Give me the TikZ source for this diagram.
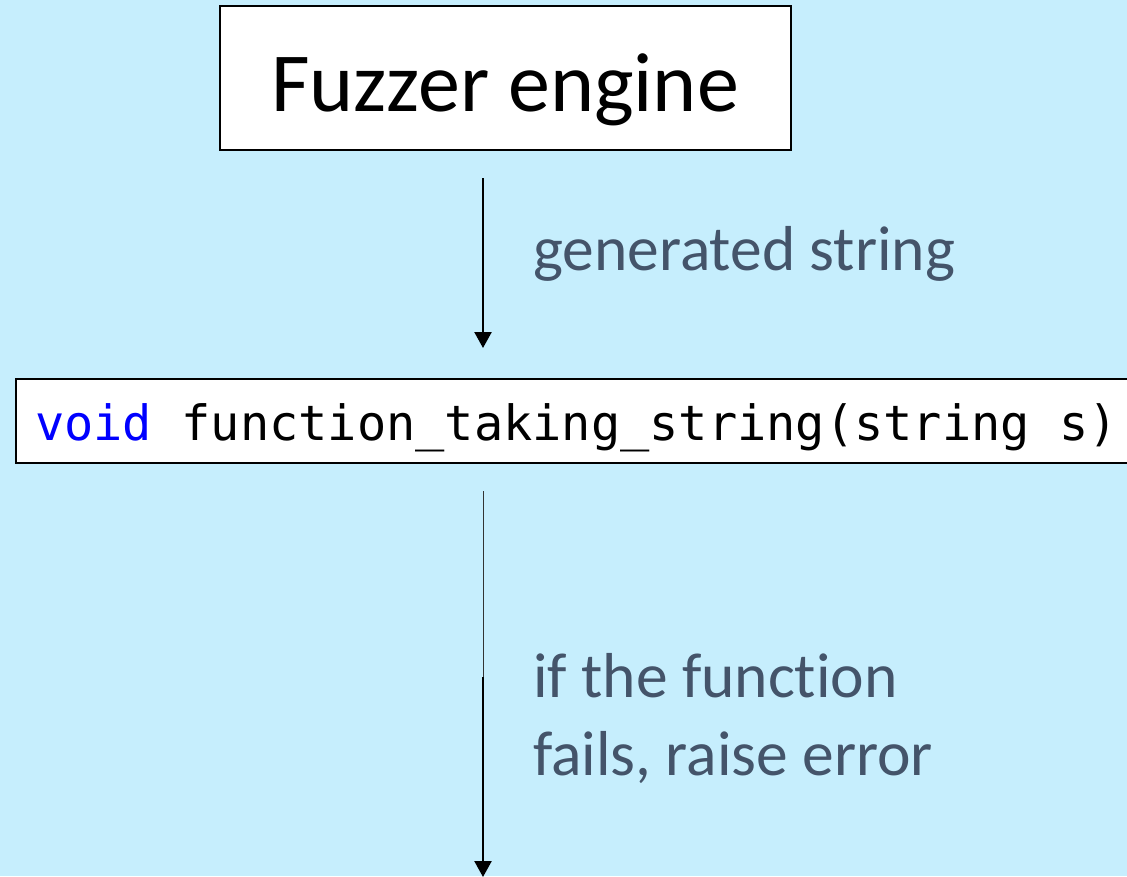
\documentclass[tikz,border=0pt]{standalone}
\usepackage{fontspec}
\setmainfont[Ligatures=NoCommon]{Carlito}
\newfontfamily\codefont{DejaVu Sans Mono}
\usetikzlibrary{arrows.meta}
\definecolor{bgblue}{HTML}{C6EEFD}
\definecolor{labelgray}{HTML}{44546A}
\definecolor{kwblue}{HTML}{0000FF}
\tikzset{
  box/.style={draw=black, line width=2pt, fill=white, inner sep=0pt},
  flow/.style={line width=2.4pt, -{Triangle[length=16pt,width=17pt]}},
  thinflow/.style={line width=1pt, draw=black!80},
  lbl/.style={text=labelgray, font=\fontsize{63.5}{78}\selectfont, anchor=base west, inner sep=0pt, align=left},
}
\begin{document}
\begin{tikzpicture}[x=1pt,y=-1pt]
  \fill[bgblue] (0,0) rectangle (1127,876);
  \useasboundingbox (0,0) rectangle (1127,876);

  % engine box
  \node[box, minimum width=571pt, minimum height=144pt, anchor=north west] (fuzz) at (219,5) {};
  \node[anchor=base, inner sep=0pt, font=\fontsize{84}{90}\selectfont] (fuzzt) at (505,111) {Fuzzer engine};

  % function signature box
  \node[box, minimum width=1130pt, minimum height=84pt, anchor=north west] (code) at (15,378) {};
  \node[anchor=base west, inner sep=0pt, font=\codefont\fontsize{48.6}{56}\selectfont] (codet) at (35,440)
    {\textcolor{kwblue}{void} function\_taking\_string(string s)};

  % connectors
  \coordinate (a1s) at (483,178);
  \coordinate (a1e) at (483,348);
  \coordinate (a2s) at (483,491);
  \coordinate (a2m) at (483,677);
  \coordinate (a2e) at (483,877);
  \draw[flow] (a1s) -- (a1e);
  \draw[thinflow] (a2s) -- (a2m);
  \draw[flow] (a2m) -- (a2e);

  % labels
  \node[lbl] (l1) at (533,270) {generated string};
  \node[lbl] (l2) at (533,697) {if the function};
  \node[lbl] (l3) at (533,775) {fails, raise error};
\end{tikzpicture}
\end{document}
